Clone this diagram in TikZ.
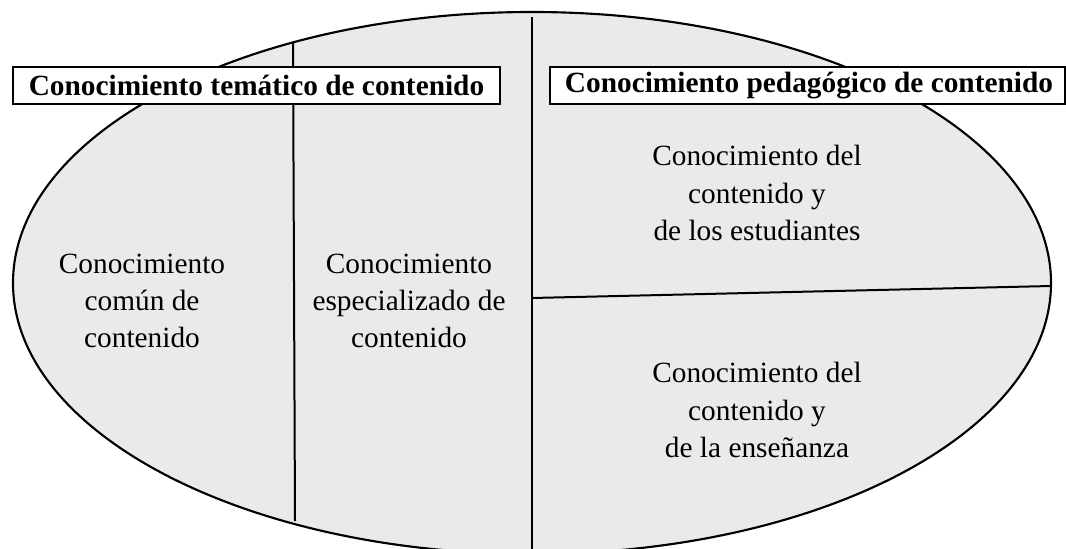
\documentclass[tikz,border=0pt]{standalone}
\usepackage{fontspec}
\setmainfont{Liberation Serif}
\definecolor{ellgray}{HTML}{EAEAEA}
\begin{document}
\begin{tikzpicture}[x=0.75pt,y=-0.75pt,
  region/.style={fill=ellgray,draw=black,line width=1.6pt},
  divider/.style={draw=black,line width=1.5pt},
  header/.style={draw=black,fill=white,line width=1.4pt,inner sep=0pt,
    minimum height=27.75pt,font=\fontsize{22}{26}\selectfont\bfseries},
  body/.style={align=center,inner sep=0pt,font=\fontsize{22}{28}\selectfont}]
\useasboundingbox (0,0) rectangle (1066,549);
\clip (0,0) rectangle (1066,549);
\fill[white] (0,0) rectangle (1066,549);
% ellipse
\draw[region] (532,283) ellipse [x radius=519, y radius=271];
% dividers
\coordinate (lt) at (293,43);
\coordinate (lb) at (295,521);
\coordinate (ct) at (532,17);
\coordinate (cb) at (532,560);
\coordinate (hl) at (532,298);
\coordinate (hr) at (1051,286);
\draw[divider] (lt) -- (lb);
\draw[divider] (ct) -- (cb);
\draw[divider] (hl) -- (hr);
% headers
\node[header,minimum width=365.25pt] (h1) at (256.5,85.5) {Conocimiento temático de contenido};
\node[header,minimum width=386.25pt] (h2) at (807.5,85.5) {\hspace*{2.25pt}Conocimiento pedagógico de contenido};
% body texts
\node[body] (t1) at (142,301) {Conocimiento\\común de\\contenido};
\node[body] (t2) at (409,301) {Conocimiento\\especializado de\\contenido};
\node[body] (t3) at (757,193) {Conocimiento del\\contenido y\\de los estudiantes};
\node[body] (t4) at (757,410) {Conocimiento del\\contenido y\\de la enseñanza};
\end{tikzpicture}
\end{document}
